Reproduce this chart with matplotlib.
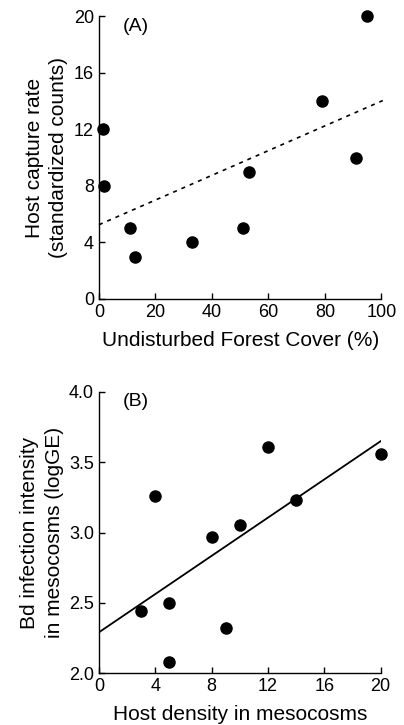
import numpy as np
import matplotlib
matplotlib.use("Agg")
import matplotlib.pyplot as plt

plt.rcParams["font.family"] = ["Liberation Sans", "DejaVu Sans"]

# panel A: forest cover vs host capture rate
forest_cover = [1.4, 1.7, 11.1, 12.8, 32.8, 51.0, 53.1, 78.9, 91.1, 94.9]
capture_rate = [12, 8, 5, 3, 4, 5, 9, 14, 10, 20]

# panel B: host density vs Bd infection intensity
host_density = [3, 4, 5, 5, 8, 9, 10, 12, 14, 20]
bd_intensity = [2.44, 3.26, 2.50, 2.08, 2.97, 2.32, 3.05, 3.61, 3.23, 3.56]

xticks_a = [0, 20, 40, 60, 80, 100]
yticks_a = [0, 4, 8, 12, 16, 20]
xticks_b = [0, 4, 8, 12, 16, 20]
yticks_b = [2.0, 2.5, 3.0, 3.5, 4.0]

TICK_FS = 13
LABEL_FS = 15

fig = plt.figure(figsize=(4.04, 7.25), dpi=100)
ax1 = fig.add_axes([0.245, 0.5876, 0.699, 0.390])
ax2 = fig.add_axes([0.245, 0.0713, 0.697, 0.3884])


def style(ax):
    ax.spines["top"].set_visible(False)
    ax.spines["right"].set_visible(False)
    ax.spines["left"].set_linewidth(1.0)
    ax.spines["bottom"].set_linewidth(1.0)
    ax.tick_params(direction="in", length=4.5, width=1.0, labelsize=TICK_FS, pad=3.5)


# (A)
ax1.plot(forest_cover, capture_rate, "o", color="black", markersize=8, clip_on=False, zorder=3)
slope, intercept = np.polyfit(forest_cover, capture_rate, 1)
xs = np.array([0, 100.5])
ax1.plot(xs, intercept + slope * xs, color="black", lw=1.2, ls=(0, (2.4, 3.0)), clip_on=False)
ax1.set_xlim(0, 100)
ax1.set_ylim(0, 20)
ax1.set_xticks(xticks_a)
ax1.set_yticks(yticks_a)
ax1.set_xlabel("Undisturbed Forest Cover (%)", fontsize=LABEL_FS, labelpad=7)
ax1.set_ylabel("Host capture rate\n(standardized counts)", fontsize=LABEL_FS, labelpad=4,
               linespacing=1.35)
ax1.text(0.085, 0.995, "(A)", transform=ax1.transAxes, fontsize=14, va="top", ha="left")
style(ax1)

# (B)
ax2.plot(host_density, bd_intensity, "o", color="black", markersize=8, clip_on=False, zorder=3)
slope, intercept = np.polyfit(host_density, bd_intensity, 1)
xs = np.array([0, 20])
ax2.plot(xs, intercept + slope * xs, color="black", lw=1.3)
ax2.set_xlim(0, 20)
ax2.set_ylim(2.0, 4.0)
ax2.set_xticks(xticks_b)
ax2.set_yticks(yticks_b)
ax2.set_yticklabels([f"{v:.1f}" for v in yticks_b])
ax2.set_xlabel("Host density in mesocosms", fontsize=LABEL_FS, labelpad=7)
ax2.set_ylabel("Bd infection intensity\nin mesocosms (logGE)", fontsize=LABEL_FS, labelpad=4,
               linespacing=1.35)
ax2.text(0.085, 0.995, "(B)", transform=ax2.transAxes, fontsize=14, va="top", ha="left")
style(ax2)

fig.savefig("out.png", dpi=100)
